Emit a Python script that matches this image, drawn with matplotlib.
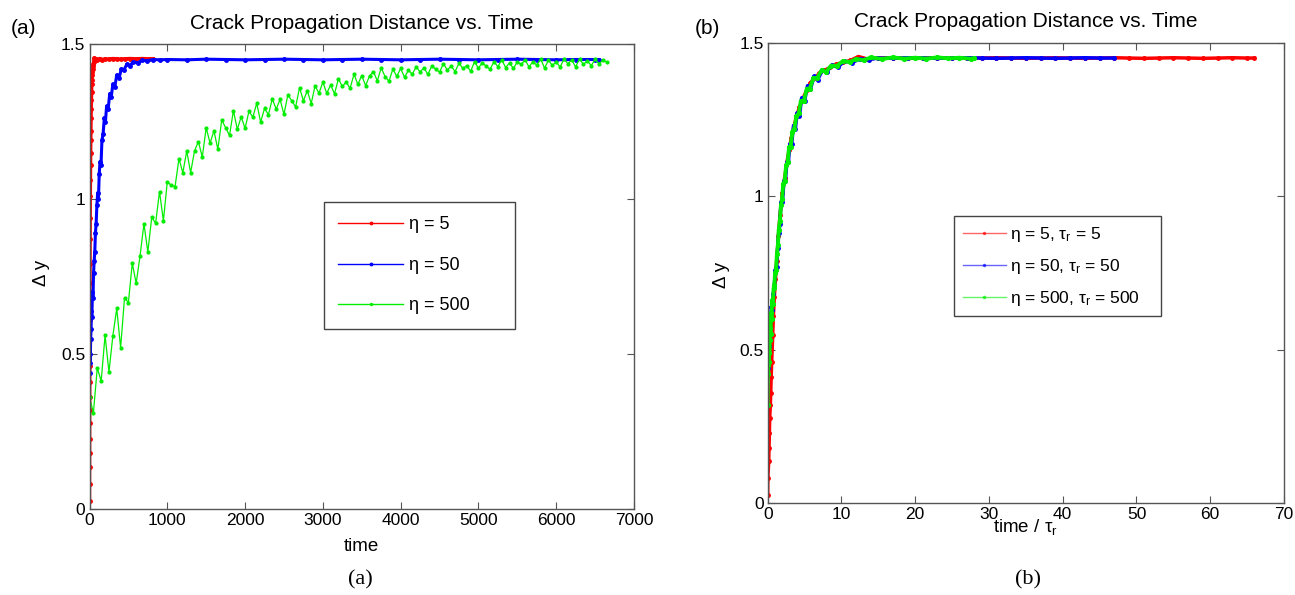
import numpy as np
import matplotlib
matplotlib.use("Agg")
import matplotlib.pyplot as plt

plt.rcParams['font.family'] = ['Liberation Sans', 'DejaVu Sans']
plt.rcParams['mathtext.fontset'] = 'custom'
plt.rcParams['mathtext.rm'] = 'Liberation Sans'
plt.rcParams['mathtext.it'] = 'Liberation Sans'
plt.rcParams['mathtext.default'] = 'regular'

# ---------------- data: panel (a) ----------------
red_t_a = [0, 0.1, 0.7, 0.9, 1.15, 1.35, 1.8, 2.05, 2.35, 2.7, 3.4, 3.85, 4.5, 5.25, 6.1,
           7.25, 8.35, 10, 11.5, 13, 14.5, 16, 17.5, 19.5, 21.5, 24, 26.5, 29, 32, 35, 38.5,
           42.5, 46.5, 51, 56, 61.5, 67.5, 80, 100, 130, 160, 200, 250, 300, 350, 400, 450,
           520, 600, 680, 760, 820]
red_y_a = [0.026, 0.08, 0.137, 0.18, 0.227, 0.276, 0.32, 0.36, 0.41, 0.46, 0.547, 0.61, 0.67,
           0.73, 0.79, 0.87, 0.94, 1.01, 1.06, 1.11, 1.15, 1.19, 1.22, 1.26, 1.29, 1.32, 1.345,
           1.37, 1.385, 1.40, 1.41, 1.42, 1.43, 1.436, 1.442, 1.455, 1.447, 1.452, 1.45, 1.453,
           1.45, 1.452, 1.451, 1.453, 1.452, 1.451, 1.452, 1.453, 1.452, 1.453, 1.452, 1.452]

blue_t_a = [0, 5, 10, 15, 20, 25, 30, 38, 45, 52, 60, 68, 76, 85, 95, 105, 115, 125, 135, 148,
            160, 175, 190, 205, 220, 240, 260, 280, 300, 325, 350, 380, 410, 440, 480, 520, 560,
            620, 680, 740, 820, 900,
            1000, 1250, 1500, 1750, 2000, 2250, 2500, 2750, 3000, 3250, 3500, 3750, 4000, 4250,
            4500, 4750, 5000, 5250, 5500, 5750, 6000, 6250, 6500, 6550]
blue_y_a = [0.44, 0.50, 0.47, 0.55, 0.58, 0.64, 0.62, 0.70, 0.68, 0.76, 0.80, 0.83, 0.89, 0.92,
            0.98, 1.02, 1.00, 1.08, 1.12, 1.11, 1.19, 1.21, 1.26, 1.25, 1.30, 1.29, 1.34, 1.33,
            1.37, 1.36, 1.40, 1.39, 1.42, 1.415, 1.435, 1.43, 1.442, 1.44, 1.447, 1.446, 1.45,
            1.449,
            1.45, 1.449, 1.451, 1.45, 1.449, 1.45, 1.451, 1.45, 1.449, 1.45, 1.451, 1.45, 1.449,
            1.45, 1.451, 1.45, 1.449, 1.45, 1.451, 1.45, 1.449, 1.45, 1.45, 1.45]

green_dt_a = 50  # sampling interval of the eta = 500 run
green_y_a = [0.36, 0.31, 0.455, 0.413, 0.56, 0.442, 0.558, 0.647, 0.52, 0.681,
             0.666, 0.793, 0.728, 0.817, 0.92, 0.829, 0.941, 0.922, 1.024, 0.93,
             1.055, 1.045, 1.04, 1.13, 1.085, 1.155, 1.085, 1.155, 1.185, 1.135,
             1.23, 1.18, 1.22, 1.16, 1.255, 1.23, 1.205, 1.285, 1.225, 1.265,
             1.228, 1.283, 1.264, 1.309, 1.248, 1.292, 1.272, 1.323, 1.29, 1.321,
             1.273, 1.336, 1.317, 1.297, 1.359, 1.317, 1.349, 1.308, 1.365, 1.341,
             1.377, 1.341, 1.368, 1.339, 1.388, 1.363, 1.377, 1.357, 1.402, 1.37,
             1.398, 1.366, 1.397, 1.411, 1.381, 1.423, 1.395, 1.38, 1.419, 1.396,
             1.421, 1.393, 1.415, 1.403, 1.426, 1.41, 1.423, 1.402, 1.429, 1.419,
             1.409, 1.437, 1.416, 1.429, 1.411, 1.438, 1.421, 1.43, 1.412, 1.443,
             1.422, 1.44, 1.428, 1.419, 1.443, 1.427, 1.449, 1.424, 1.439, 1.421,
             1.443, 1.434, 1.449, 1.426, 1.443, 1.432, 1.452, 1.422, 1.448, 1.431,
             1.442, 1.426, 1.451, 1.437, 1.448, 1.426, 1.453, 1.434, 1.446, 1.43,
             1.451, 1.436, 1.448, 1.442]

# ---------------- data: panel (b) ----------------
red_s_b = [0, 0.02, 0.14, 0.18, 0.23, 0.27, 0.36, 0.41, 0.47, 0.54, 0.68, 0.77, 0.9, 1.05, 1.22,
           1.45, 1.67, 2.0, 2.3, 2.6, 2.9, 3.2, 3.5, 3.9, 4.3, 4.8, 5.3, 5.8, 6.4, 7.0, 7.7, 8.5,
           9.3, 10.2, 11.2, 12.3, 13.5,
           15, 17, 19, 21, 23, 25, 27, 29, 31, 33, 35, 37, 39, 41, 43, 45, 47, 49, 51, 53, 55,
           57, 59, 61, 63, 65, 66]
red_y_b = [0.026, 0.08, 0.137, 0.18, 0.227, 0.276, 0.32, 0.36, 0.41, 0.46, 0.547, 0.61, 0.67,
           0.73, 0.79, 0.87, 0.94, 1.01, 1.06, 1.11, 1.15, 1.19, 1.22, 1.26, 1.29, 1.32, 1.345,
           1.37, 1.385, 1.40, 1.41, 1.42, 1.43, 1.436, 1.442, 1.455, 1.447,
           1.45, 1.451, 1.449, 1.45, 1.451, 1.45, 1.449, 1.45, 1.451, 1.45, 1.449, 1.45, 1.451,
           1.45, 1.449, 1.45, 1.451, 1.45, 1.449, 1.45, 1.451, 1.45, 1.449, 1.45, 1.451, 1.45,
           1.45]

blue_s_b = [0, 0.05, 0.1, 0.15, 0.2, 0.3, 0.4, 0.5, 0.6, 0.75, 0.9, 1.05, 1.2, 1.35, 1.5, 1.65,
            1.8, 2.0, 2.2, 2.4, 2.6, 2.8, 3.0, 3.25, 3.5, 3.75, 4.0, 4.3, 4.6, 5.0, 5.4, 5.8,
            6.3, 6.8, 7.4, 8.0, 8.7, 9.5, 10.4, 11.4, 12.5, 13.7,
            15, 17, 19, 21, 23, 25, 27, 29, 31, 33, 35, 37, 39, 41, 43, 45, 47]
blue_y_b = [0.44, 0.50, 0.46, 0.53, 0.51, 0.57, 0.60, 0.64, 0.63, 0.68, 0.71, 0.76, 0.77, 0.83,
            0.88, 0.91, 0.98, 0.98, 1.05, 1.05, 1.11, 1.11, 1.17, 1.17, 1.23, 1.22, 1.27, 1.26,
            1.32, 1.31, 1.36, 1.35, 1.39, 1.38, 1.41, 1.405, 1.427, 1.42, 1.44, 1.435, 1.447,
            1.445,
            1.45, 1.449, 1.451, 1.45, 1.449, 1.45, 1.451, 1.45, 1.449, 1.45, 1.451, 1.45, 1.449,
            1.45, 1.451, 1.45, 1.45]

green_s_b = [0, 0.03, 0.07, 0.1, 0.14, 0.18, 0.22, 0.27, 0.32, 0.38, 0.45, 0.52, 0.6, 0.7, 0.8,
             0.9, 1.0, 1.12, 1.25, 1.38, 1.5, 1.65, 1.8, 1.95, 2.1, 2.3, 2.5, 2.7, 2.9, 3.1,
             3.35, 3.6, 3.9, 4.2, 4.5, 4.9, 5.3, 5.7, 6.2, 6.7, 7.3, 7.9, 8.6, 9.4, 10.2, 11.1,
             12.0, 13.0, 14.0, 15.5, 17, 18.5, 20, 21.5, 23, 24.5, 26, 27.5, 28]
green_y_b = [0.32, 0.45, 0.42, 0.50, 0.46, 0.55, 0.49, 0.53, 0.57, 0.55, 0.62, 0.60, 0.66, 0.65,
             0.70, 0.71, 0.75, 0.76, 0.81, 0.84, 0.89, 0.92, 0.97, 0.99, 1.04, 1.05, 1.10, 1.11,
             1.16, 1.16, 1.21, 1.22, 1.26, 1.27, 1.31, 1.31, 1.35, 1.35, 1.385, 1.385, 1.41,
             1.405, 1.425, 1.425, 1.44, 1.437, 1.447, 1.443, 1.452, 1.447, 1.452, 1.448, 1.451,
             1.448, 1.452, 1.449, 1.451, 1.448, 1.449]

labels_a = ['η = 5', 'η = 50', 'η = 500']
labels_b = [r'η = 5, $\tau_r$ = 5', r'η = 50, $\tau_r$ = 50', r'η = 500, $\tau_r$ = 500']
title = 'Crack Propagation Distance vs. Time'
xticks_a = [0, 1000, 2000, 3000, 4000, 5000, 6000, 7000]
xticks_b = [0, 10, 20, 30, 40, 50, 60, 70]
yticks = [0, 0.5, 1, 1.5]

RED, BLUE, GREEN = '#ff0000', '#0000ff', '#00ee00'
AXC = '#555555'

W, H = 1295, 595
fig = plt.figure(figsize=(W / 100, H / 100), dpi=100)
ax1 = fig.add_axes([89.5 / W, 1 - 509 / H, (634 - 89.5) / W, (509 - 44) / H])
ax2 = fig.add_axes([767.7 / W, 1 - 503 / H, (1284 - 767.7) / W, (503 - 42.7) / H])

# panel (a)
ax1.plot(red_t_a, red_y_a, '.-', color=RED, lw=2.5, ms=5, label=labels_a[0])
ax1.plot(blue_t_a, blue_y_a, '.-', color=BLUE, lw=2.2, ms=5, label=labels_a[1])
ax1.plot(np.arange(len(green_y_a)) * green_dt_a, green_y_a, '.-', color=GREEN, lw=0.9, ms=4,
         label=labels_a[2])

# panel (b)
ax2.plot(red_s_b, red_y_b, '.-', color=RED, lw=2.5, ms=5, label=labels_b[0])
ax2.plot(blue_s_b, blue_y_b, '.-', color=BLUE, lw=2.5, ms=5, label=labels_b[1])
ax2.plot(green_s_b, green_y_b, '.-', color=GREEN, lw=2.8, ms=5.5, label=labels_b[2])

for ax, xt, xmax in ((ax1, xticks_a, 7000), (ax2, xticks_b, 70)):
    ax.set_xlim(0, xmax)
    ax.set_ylim(0, 1.5)
    ax.set_xticks(xt)
    ax.set_xticklabels([str(v) for v in xt])
    ax.set_yticks(yticks)
    ax.set_yticklabels(['0', '0.5', '1', '1.5'])
    ax.tick_params(direction='in', top=True, right=True, length=5, width=0.8,
                   color=AXC, labelsize=12.5, pad=3)
    for s in ax.spines.values():
        s.set_color(AXC)
        s.set_linewidth(1.0)
    ax.set_title(title, fontsize=15, pad=11)
    ax.set_ylabel('Δ y', fontsize=13.5)

ax1.set_xlabel('time', fontsize=13.5)
ax1.xaxis.set_label_coords(0.5, -0.062)
ax1.yaxis.set_label_coords(-0.0725, 0.507)
ax2.set_xlabel(r'time / $\tau_r$', fontsize=13.5)
ax2.xaxis.set_label_coords(0.5, -0.030)
ax2.yaxis.set_label_coords(-0.073, 0.495)

leg1 = ax1.legend(loc='upper left', bbox_to_anchor=(324 / W, 1 - 342 / H, 191 / W, 140 / H),
                  bbox_transform=fig.transFigure, mode='expand', fontsize=13,
                  handlelength=3.6, handletextpad=0.33, labelspacing=1.3, borderpad=0.8,
                  borderaxespad=0, numpoints=1, fancybox=False, framealpha=1,
                  edgecolor='#444444', markerscale=0.7)
leg1.get_frame().set_linewidth(1.0)
for h in leg1.get_lines():
    h.set_linewidth(1.0)

leg2 = ax2.legend(loc='upper left', bbox_to_anchor=(954 / W, 1 - 331 / H, 207 / W, 115 / H),
                  bbox_transform=fig.transFigure, mode='expand', fontsize=12.5,
                  handlelength=2.5, handletextpad=0.25, labelspacing=0.75, borderpad=0.5,
                  borderaxespad=0, numpoints=1, fancybox=False, framealpha=1,
                  edgecolor='#444444', markerscale=0.6)
leg2.get_frame().set_linewidth(1.0)
for h in leg2.get_lines():
    h.set_linewidth(1.0)
    h.set_alpha(0.6)

fig.text(24 / W, 1 - 28 / H, '(a)', fontsize=15, ha='center', va='center')
fig.text(707 / W, 1 - 28 / H, '(b)', fontsize=15, ha='center', va='center')
fig.text(360 / W, 1 - 580 / H, '(a)', fontsize=16, ha='center', va='center',
         family='Liberation Serif')
fig.text(1028 / W, 1 - 580 / H, '(b)', fontsize=16, ha='center', va='center',
         family='Liberation Serif')

fig.savefig('out.png', dpi=100)
